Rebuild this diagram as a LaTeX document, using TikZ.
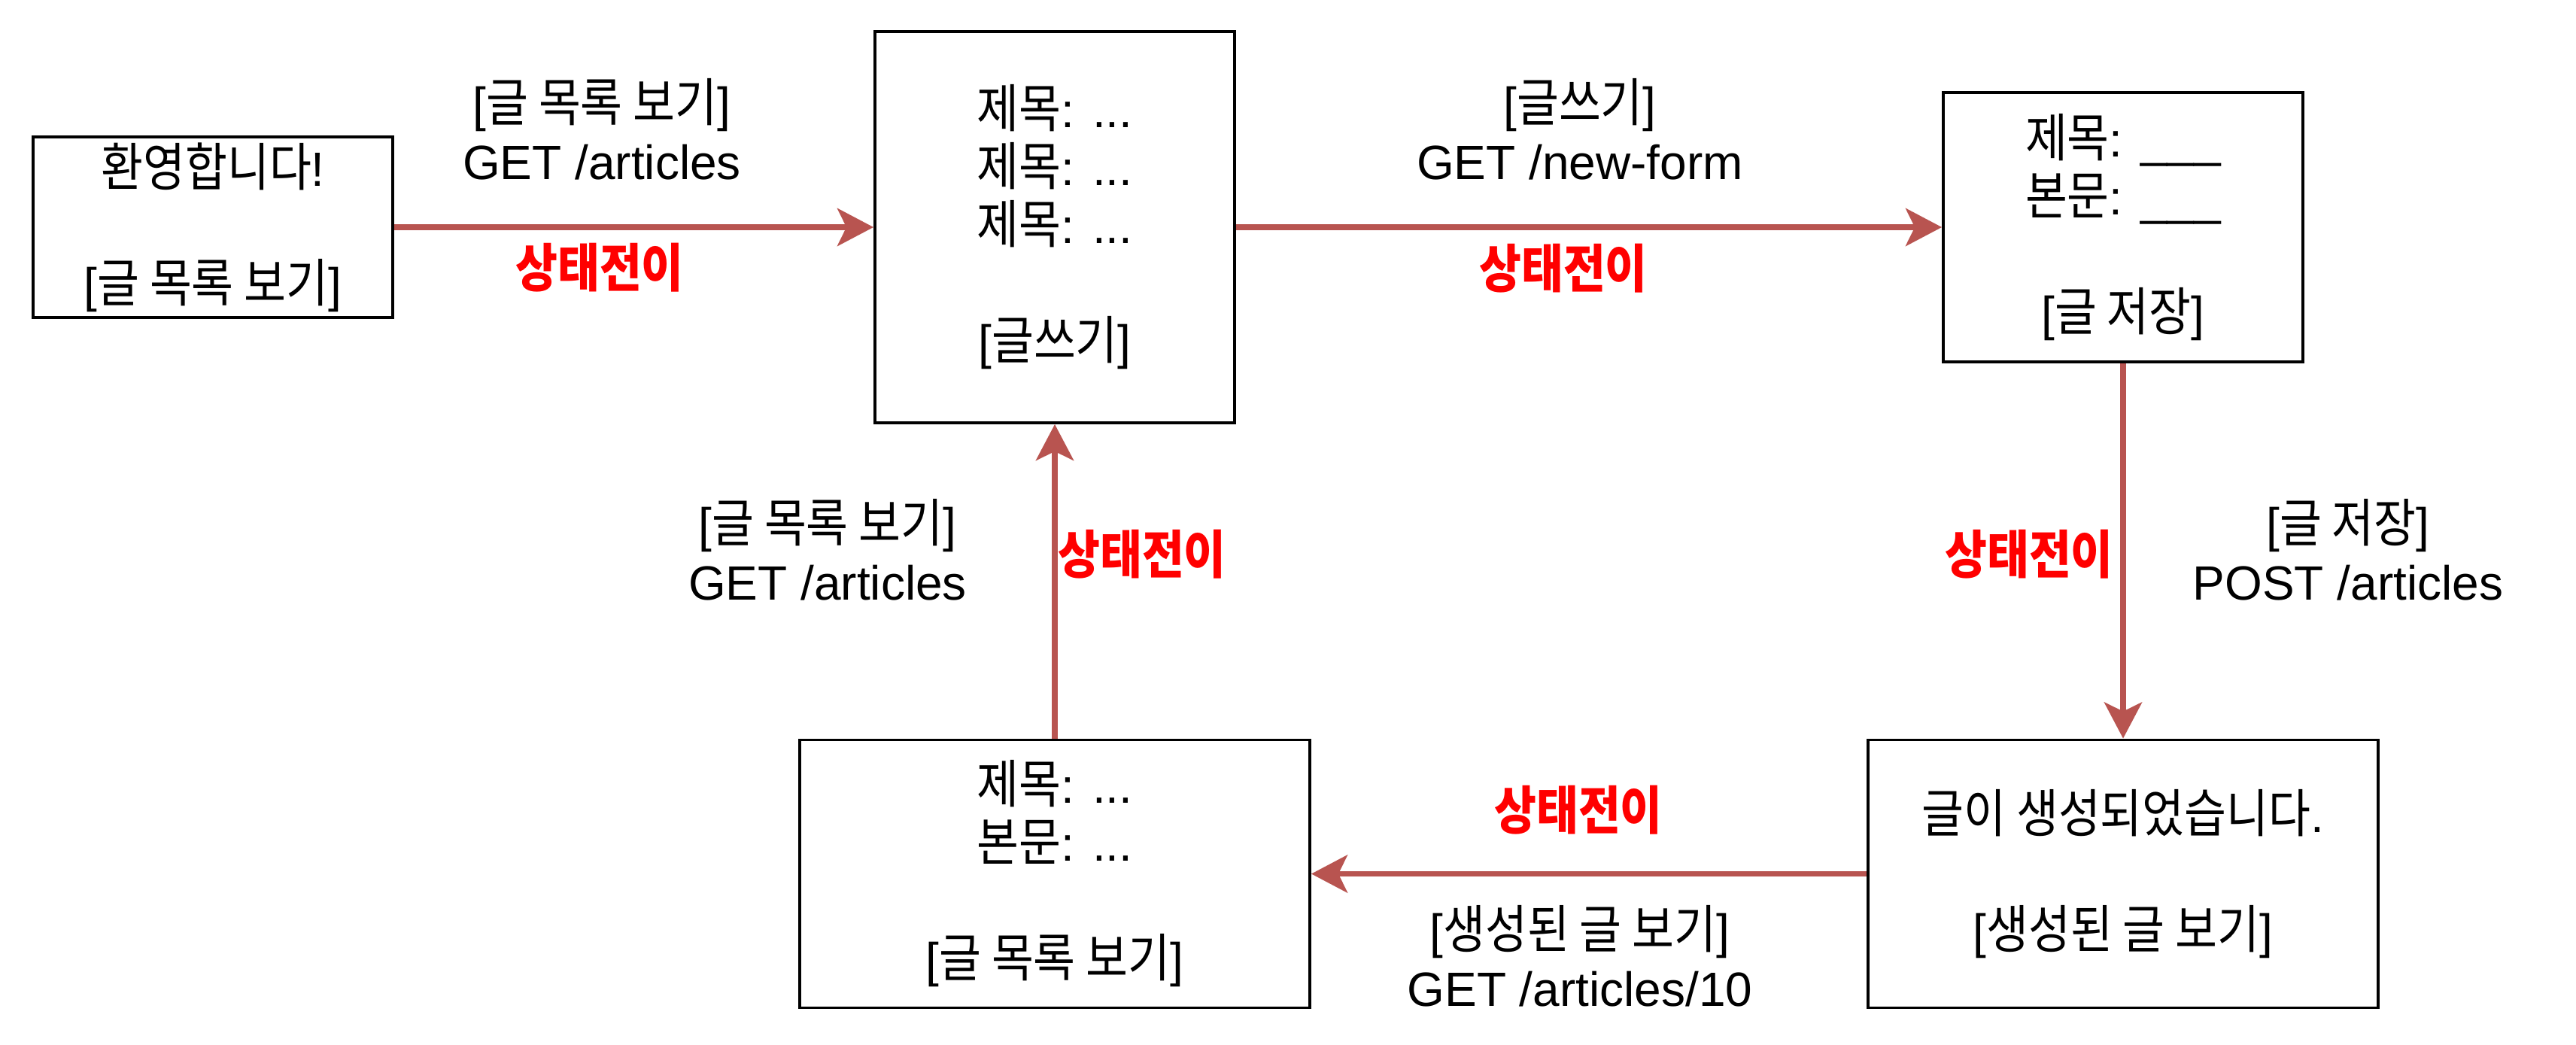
\documentclass[tikz,border=0pt]{standalone}
\usepackage{fontspec}
\setmainfont{Liberation Sans}
\newfontfamily\krfont[Scale=1.08, FakeStretch=0.88]{Noto Sans CJK KR}
\newcommand{\ko}[1]{{\krfont #1}}
\definecolor{flowred}{RGB}{184,84,80}
\usetikzlibrary{arrows.meta,positioning}

\begin{document}
\begin{tikzpicture}[
  screen/.style={draw=black, line width=1.1pt, fill=white, align=center, inner sep=0pt, font=\fontsize{18.2}{21.9}\selectfont},
  flow/.style={-{Stealth[length=0.48cm, width=0.50cm, inset=0.12cm]}, line width=2.1pt, flowred},
  reqlabel/.style={align=center, font=\fontsize{18.2}{21.9}\selectfont},
  translabel/.style={text=red, font=\fontsize{18.2}{21.9}\selectfont\bfseries}
]
  \useasboundingbox (0,0) rectangle (34.24,-13.88);

  % screens
  \node[screen, minimum width=4.78cm, minimum height=2.4cm] (welcome) at (2.83,-3.02) {\ko{환영합니다}!\\[0.77cm][\ko{글 목록 보기}]};
  \node[screen, minimum width=4.78cm, minimum height=5.2cm] (list) at (14.02,-3.02) {\ko{제목}: ...\\\ko{제목}: ...\\\ko{제목}: ...\\[0.77cm][\ko{글쓰기}]};
  \node[screen, minimum width=4.78cm, minimum height=3.58cm] (form) at (28.22,-3.02) {\ko{제목}: \_\_\_\\\ko{본문}: \_\_\_\\[0.77cm][\ko{글 저장}]};
  \node[screen, minimum width=6.78cm, minimum height=3.56cm] (created) at (28.22,-11.615) {\ko{글이 생성되었습니다}.\\[0.77cm][\ko{생성된 글 보기}]};
  \node[screen, minimum width=6.78cm, minimum height=3.56cm] (detail) at (14.02,-11.615) {\ko{제목}: ...\\\ko{본문}: ...\\[0.77cm][\ko{글 목록 보기}]};

  % transitions
  \draw[flow] (welcome.east) -- (list.west);
  \draw[flow] (list.east) -- (form.west);
  \draw[flow] (form.south) -- (created.north);
  \draw[flow] (created.west) -- (detail.east);
  \draw[flow] (detail.north) -- (list.south);

  % requests
  \node[reqlabel] (req1) at (8.00,-1.72) {[\ko{글 목록 보기}]\\GET /articles};
  \node[reqlabel] (req2) at (21.00,-1.72) {[\ko{글쓰기}]\\GET /new-form};
  \node[reqlabel] (req3) at (31.21,-7.31) {[\ko{글 저장}]\\POST /articles};
  \node[reqlabel] (req4) at (21.00,-12.71) {[\ko{생성된 글 보기}]\\GET /articles/10};
  \node[reqlabel] (req5) at (11.00,-7.31) {[\ko{글 목록 보기}]\\GET /articles};

  \node[translabel] (tr1) at (7.97,-3.56) {\ko{상태전이}};
  \node[translabel] (tr2) at (20.78,-3.57) {\ko{상태전이}};
  \node[translabel] (tr3) at (26.97,-7.37) {\ko{상태전이}};
  \node[translabel] (tr4) at (20.98,-10.77) {\ko{상태전이}};
  \node[translabel] (tr5) at (15.18,-7.37) {\ko{상태전이}};
\end{tikzpicture}
\end{document}
